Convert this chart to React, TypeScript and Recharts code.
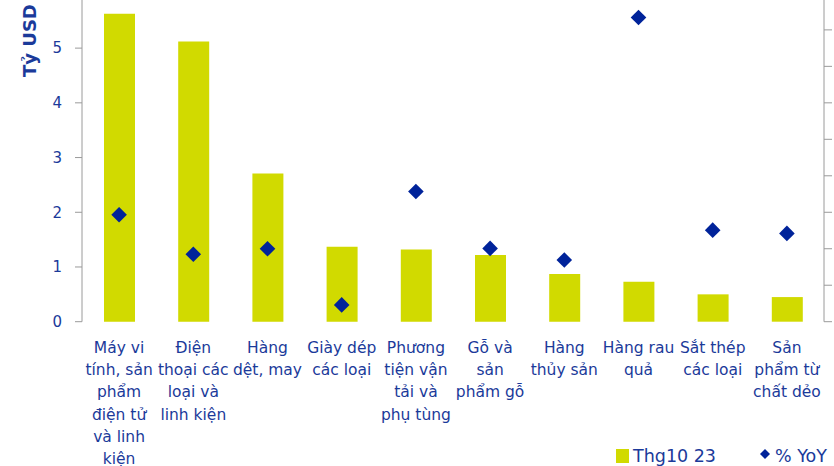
import React from 'react';
import { ComposedChart, Bar, Scatter, XAxis, YAxis, Legend } from 'recharts';

const categories = [
  'Máy vi\ntính, sản\nphẩm\nđiện tử\nvà linh\nkiện',
  'Điện\nthoại các\nloại và\nlinh kiện',
  'Hàng\ndệt, may',
  'Giày dép\ncác loại',
  'Phương\ntiện vận\ntải và\nphụ tùng',
  'Gỗ và\nsản\nphẩm gỗ',
  'Hàng\nthủy sản',
  'Hàng rau\nquả',
  'Sắt thép\ncác loại',
  'Sản\nphẩm từ\nchất dẻo',
];
const exportValues = [5.63, 5.12, 2.71, 1.37, 1.32, 1.22, 0.87, 0.73, 0.5, 0.45];
const yoyValues = [29.3, 18.5, 20.0, 4.6, 35.7, 20.1, 16.9, 83.4, 25.1, 24.2];
const leftTicks = [0, 1, 2, 3, 4, 5, 6];
const rightTicks = [0, 10, 20, 30, 40, 50, 60, 70, 80, 90];
const boundaryTicks = [0, 1, 2, 3, 4, 5, 6, 7, 8, 9, 10];
const barSeriesName = 'Thg10 23';
const yoySeriesName = '% YoY';
const leftAxisTitle = 'Tỷ USD';

const data = categories.map((cat, i) => ({ cat, value: exportValues[i], yoy: yoyValues[i] }));

const FONT = '"DejaVu Sans", sans-serif';
const TEXT = '#1b3a9a';
const NAVY = '#00239a';
const BAR = '#d1da00';
const AXIS = '#9a9a9a';
const TOP = -30;

const CategoryTick = (props: any) => {
  const { x, y, payload } = props;
  const lines = String(payload.value).split('\n');
  return (
    <text x={x} y={y} textAnchor="middle" fill={TEXT} fontSize={15.5} fontFamily={FONT}>
      {lines.map((l: string, i: number) => (
        <tspan key={i} x={x} dy={i === 0 ? 31 : 22.3}>
          {l}
        </tspan>
      ))}
    </text>
  );
};

const Diamond = (props: any) => {
  const { cx, cy } = props;
  const r = 7.8;
  return <path d={`M${cx},${cy - r} L${cx + r},${cy} L${cx},${cy + r} L${cx - r},${cy} Z`} fill={NAVY} />;
};

const renderLegend = () => (
  <div
    style={{
      display: 'flex',
      alignItems: 'center',
      height: 20,
      lineHeight: '20px',
      fontFamily: FONT,
      fontSize: 17.5,
      color: TEXT,
      whiteSpace: 'nowrap',
    }}
  >
    <span style={{ display: 'inline-block', width: 13, height: 14, background: BAR, marginRight: 4 }} />
    <span>{barSeriesName}</span>
    <svg width={10} height={10} style={{ marginLeft: 44, marginRight: 5, marginTop: -3 }}>
      <path d="M5,0 L10,5 L5,10 L0,5 Z" fill={NAVY} />
    </svg>
    <span>{yoySeriesName}</span>
  </div>
);

export default function App() {
  return (
    <div style={{ position: 'fixed', left: 0, top: 0, width: 834, height: 466, overflow: 'hidden', background: '#fff' }}>
      <div style={{ position: 'absolute', left: 0, top: TOP }}>
        <ComposedChart
          width={884}
          height={520}
          data={data}
          margin={{ top: 23.4, right: 0, bottom: 0, left: 0 }}
          barCategoryGap={0}
        >
          <XAxis
            xAxisId="grid"
            type="number"
            domain={[0, 10]}
            ticks={boundaryTicks}
            allowDataOverflow
            tick={false}
            tickSize={6}
            height={0}
            axisLine={{ stroke: AXIS }}
            tickLine={{ stroke: AXIS }}
          />
          <XAxis
            xAxisId="cat"
            dataKey="cat"
            type="category"
            interval={0}
            height={168.3}
            axisLine={false}
            tickLine={false}
            tickSize={0}
            tickMargin={0}
            tick={<CategoryTick />}
          />
          <YAxis
            yAxisId="l"
            orientation="left"
            width={82}
            domain={[0, 6]}
            ticks={leftTicks}
            interval={0}
            tickSize={7}
            tickMargin={13}
            axisLine={{ stroke: AXIS }}
            tickLine={{ stroke: AXIS }}
            tick={{ fill: TEXT, fontSize: 15, fontFamily: FONT }}
            label={{
              content: () => (
                <text
                  x={36}
                  y={77 - TOP}
                  transform={`rotate(-90 36 ${77 - TOP})`}
                  fill={TEXT}
                  fontSize={18}
                  fontWeight="bold"
                  fontFamily={FONT}
                  textAnchor="start"
                >
                  {leftAxisTitle}
                </text>
              ),
            }}
          />
          <YAxis
            yAxisId="r"
            orientation="right"
            width={60}
            domain={[0, 90]}
            ticks={rightTicks}
            interval={0}
            tickSize={8}
            tickMargin={10}
            axisLine={{ stroke: AXIS }}
            tickLine={{ stroke: AXIS }}
            tick={{ fill: TEXT, fontSize: 15, fontFamily: FONT }}
          />
          <Bar
            xAxisId="cat"
            yAxisId="l"
            dataKey="value"
            name={barSeriesName}
            fill={BAR}
            barSize={31}
            isAnimationActive={false}
          />
          <Scatter
            xAxisId="cat"
            yAxisId="r"
            dataKey="yoy"
            name={yoySeriesName}
            fill={NAVY}
            shape={<Diamond />}
            isAnimationActive={false}
          />
          <Legend
            layout="horizontal"
            verticalAlign="middle"
            align="center"
            wrapperStyle={{ left: 616, top: 445.7 - TOP, width: 'auto', height: 'auto' }}
            content={renderLegend}
          />
        </ComposedChart>
      </div>
    </div>
  );
}
